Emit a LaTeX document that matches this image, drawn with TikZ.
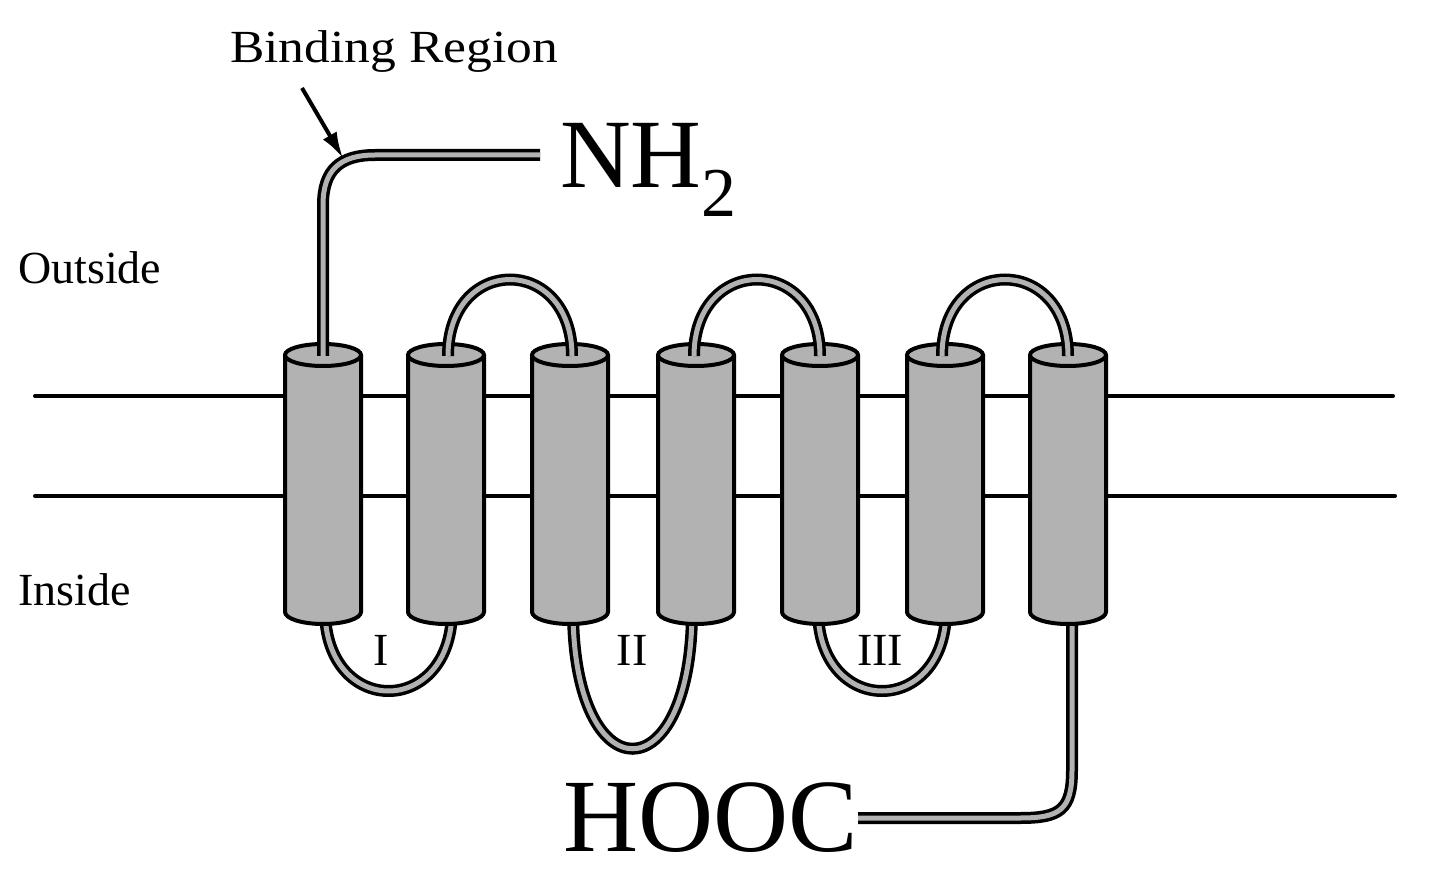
\documentclass[tikz,border=0pt]{standalone}
\usepackage{fontspec}
\setmainfont{Liberation Serif}
\usetikzlibrary{arrows.meta}
\begin{document}
\begin{tikzpicture}[x=1pt,y=-1pt,
  tube/.style={draw=black,double=gray!60,line width=3.5pt,double distance=5pt},
  memb/.style={line width=4pt,line cap=round},
  cyl/.style={fill=gray!60,draw=black,line width=4pt},
  lbl/.style={inner sep=0pt,font=\fontsize{46}{46}\selectfont}]
\useasboundingbox (0,0) rectangle (1440,890);
% membrane
\draw[memb] (35,396) -- (1393,396);
\draw[memb] (35,496) -- (1395,496);
% inside loops
\draw[tube] (325,610) .. controls (325,718) and (452,718) .. (452,610);
\draw[tube] (573,610) .. controls (573,795) and (692,795) .. (692,610);
\draw[tube] (818,610) .. controls (818,718) and (946,718) .. (946,610);
\draw[tube] (1072,612) -- (1072,770) .. controls (1072,810) and (1060,818) .. (1020,818) -- (858,818);
% cylinders
\foreach \n/\x in {1/323,2/446,3/570,4/696,5/820,6/945,7/1068}{
  \draw[cyl] (\x-38,355) -- (\x-38,612) arc[start angle=180,end angle=0,x radius=38,y radius=12] -- (\x+38,355);
  \draw[cyl] (\x,355) ellipse[x radius=38,y radius=11];
  \coordinate (c\n) at (\x,355);
}
% outside loops
\draw[tube] (448,356) .. controls (448,254) and (572,254) .. (572,356);
\draw[tube] (694,356) .. controls (694,254) and (820,254) .. (820,356);
\draw[tube] (942,356) .. controls (942,254) and (1068,254) .. (1068,356);
% N-terminal
\draw[tube] (323,356) -- (323,205) .. controls (323,170) and (340,155) .. (375,155) -- (540,155);
% labels
\node[lbl,anchor=west,xscale=1.12] (br) at (230,52) {Binding Region};
\coordinate (bt) at (343,158);
\draw[line width=4pt,-{Latex[length=26pt,width=16pt]}] (302,88) -- (bt);
\node[lbl,anchor=west] (out) at (18,268) {Outside};
\node[lbl,anchor=west] (ins) at (18,590) {Inside};
\node[lbl] (r1) at (381,650) {I};
\node[lbl] (r2) at (632,650) {II};
\node[lbl] (r3) at (880,650) {III};
\node[inner sep=0pt,anchor=west,font=\fontsize{98}{98}\selectfont] (nh) at (560,170) {NH\raisebox{-0.3em}{\fontsize{70}{70}\selectfont 2}};
\node[inner sep=0pt,anchor=east,font=\fontsize{104}{104}\selectfont] (hooc) at (858,818) {HOOC};
\end{tikzpicture}
\end{document}
